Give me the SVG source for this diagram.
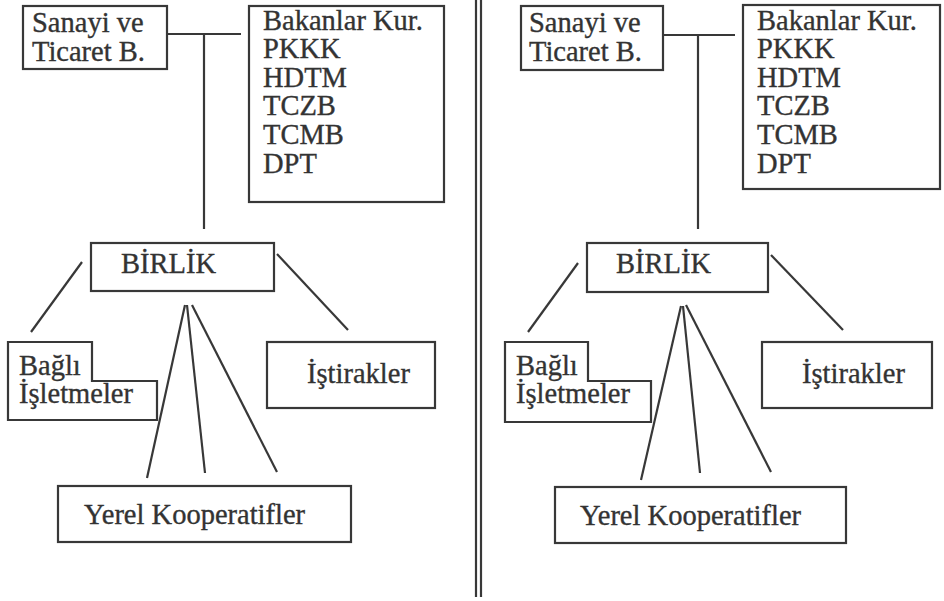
<svg xmlns="http://www.w3.org/2000/svg" width="944" height="601" viewBox="0 0 944 601">
<style>
.box{fill:none;stroke:#383838;stroke-width:2.2}
.ln{stroke:#383838;stroke-width:2.2;fill:none}
.t{font-family:'Liberation Serif','Times New Roman','DejaVu Serif',serif;font-size:28.5px;fill:#333;stroke:#333;stroke-width:0.35}
</style>
<rect width="944" height="601" fill="#fff"/>
<g id="divider">
<line class="ln" x1="476" y1="0" x2="476" y2="597"/>
<line class="ln" x1="481" y1="0" x2="481" y2="597"/>
</g>
<g id="connectors">
<polyline class="ln" points="167,34 241,34"/>
<line class="ln" x1="204" y1="34" x2="204" y2="229"/>
<line class="ln" x1="82" y1="262" x2="31" y2="332"/>
<line class="ln" x1="277" y1="254" x2="348" y2="330"/>
<line class="ln" x1="185" y1="305" x2="147" y2="478"/>
<line class="ln" x1="187" y1="305" x2="205" y2="473"/>
<line class="ln" x1="192" y1="305" x2="277" y2="472"/>
<polyline class="ln" points="663,35 735,35"/>
<line class="ln" x1="698" y1="35" x2="698" y2="229"/>
<line class="ln" x1="578" y1="263" x2="528" y2="332"/>
<line class="ln" x1="771" y1="255" x2="843" y2="330"/>
<line class="ln" x1="681" y1="306" x2="641" y2="480"/>
<line class="ln" x1="683" y1="306" x2="700" y2="473"/>
<line class="ln" x1="686" y1="305" x2="771" y2="472"/>
</g>
<g id="sanayi-1"><rect class="box" x="23" y="6" width="144" height="63"/><text class="t" x="32" y="32">Sanayi ve</text><text class="t" x="32" y="61">Ticaret B.</text></g>
<g id="bakanlar-1"><rect class="box" x="249" y="6" width="195" height="196"/>
<text class="t" x="263" y="30">Bakanlar Kur.</text><text class="t" x="263" y="58">PKKK</text><text class="t" x="263" y="87">HDTM</text><text class="t" x="263" y="115">TCZB</text><text class="t" x="263" y="144">TCMB</text><text class="t" x="263" y="173">DPT</text></g>
<g id="birlik-1"><rect class="box" x="91" y="243" width="183" height="48"/><text class="t" x="121" y="273">BİRLİK</text></g>
<g id="bagli-1"><path class="box" d="M8,342 H92 V381 H157 V420 H8 Z"/><text class="t" x="19" y="375">Bağlı</text><text class="t" x="19" y="403">İşletmeler</text></g>
<g id="istirakler-1"><rect class="box" x="267" y="342" width="168" height="66"/><text class="t" x="307" y="383">İştirakler</text></g>
<g id="yerel-1"><rect class="box" x="58" y="486" width="293" height="56"/><text class="t" x="84" y="524">Yerel Kooperatifler</text></g>
<g id="sanayi-2"><rect class="box" x="521" y="6" width="142" height="64"/><text class="t" x="529" y="32">Sanayi ve</text><text class="t" x="529" y="61">Ticaret B.</text></g>
<g id="bakanlar-2"><rect class="box" x="743" y="5" width="197" height="184"/>
<text class="t" x="757" y="30">Bakanlar Kur.</text><text class="t" x="757" y="58">PKKK</text><text class="t" x="757" y="87">HDTM</text><text class="t" x="757" y="115">TCZB</text><text class="t" x="757" y="144">TCMB</text><text class="t" x="757" y="173">DPT</text></g>
<g id="birlik-2"><rect class="box" x="587" y="243" width="181" height="49"/><text class="t" x="616" y="273">BİRLİK</text></g>
<g id="bagli-2"><path class="box" d="M505,342 H588 V381 H651 V422 H505 Z"/><text class="t" x="516" y="375">Bağlı</text><text class="t" x="516" y="403">İşletmeler</text></g>
<g id="istirakler-2"><rect class="box" x="762" y="342" width="170" height="66"/><text class="t" x="802" y="383">İştirakler</text></g>
<g id="yerel-2"><rect class="box" x="555" y="487" width="291" height="56"/><text class="t" x="580" y="525">Yerel Kooperatifler</text></g>
</svg>
